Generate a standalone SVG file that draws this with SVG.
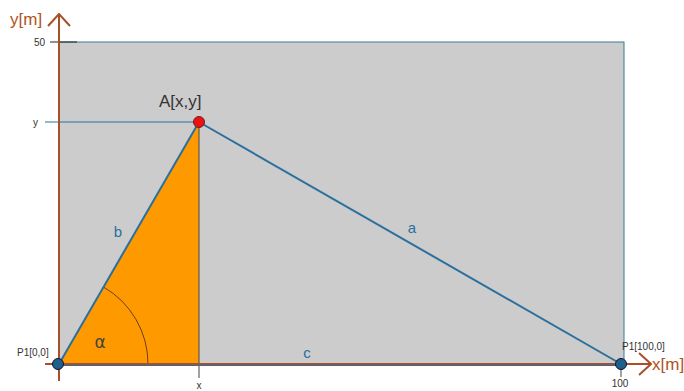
<svg xmlns="http://www.w3.org/2000/svg" width="684" height="391" viewBox="0 0 684 391">
<defs>
<style>
.lbl{font-family:"Liberation Sans",Arial,sans-serif;}
.small{font-size:10px;fill:#333;}
.axl{font-size:17px;fill:#b0541e;}
.side{font-size:15px;fill:#2a6f9e;}
.blue{stroke:#2a6f9e;stroke-width:2;fill:none;}
.axis{stroke:#a8502a;stroke-width:2;fill:none;}
</style>
<marker id="arr" viewBox="0 0 14 24" refX="13" refY="12" markerWidth="14" markerHeight="24" markerUnits="userSpaceOnUse" orient="auto">
<path d="M1,1 L13,12 L1,23" fill="none" stroke="#a8502a" stroke-width="2"/>
</marker>
</defs>
<rect width="684" height="391" fill="#ffffff"/>
<g id="area">
<rect x="59" y="42" width="565" height="322" fill="#cccccc" stroke="#3c7a98" stroke-width="1"/>
</g>
<g id="triangle">
<polygon points="59,364 199,122 199,364" fill="#ff9900"/>
<path d="M148,364 A89,89 0 0 0 103.5,287" fill="none" stroke="#6b4020" stroke-width="1"/>
</g>
<g id="connectors">
<line x1="50" y1="42" x2="77" y2="42" stroke="#222" stroke-width="1"/>
<line x1="45" y1="122" x2="199" y2="122" stroke="#2a6f9e" stroke-width="1"/>
<line x1="199" y1="122" x2="199" y2="378" stroke="#444" stroke-width="1"/>
<line x1="621" y1="364" x2="621" y2="377" stroke="#444" stroke-width="1"/>
<line x1="59" y1="365" x2="621" y2="365" class="blue"/>
<line x1="59" y1="364" x2="199" y2="122" class="blue"/>
<line x1="199" y1="122" x2="621" y2="364" class="blue"/>
<line x1="59" y1="381" x2="59" y2="14" class="axis" marker-end="url(#arr)"/>
<line x1="45" y1="364" x2="651" y2="364" class="axis" marker-end="url(#arr)"/>
</g>
<g id="P1_origin">
<circle cx="58" cy="364" r="5.5" fill="#1f5f8b" stroke="#113" stroke-width="1"/>
<text class="lbl small" x="17" y="356">P1[0,0]</text>
</g>
<g id="P1_end">
<circle cx="621" cy="364" r="5.5" fill="#1f5f8b" stroke="#113" stroke-width="1"/>
<text class="lbl small" x="622" y="350">P1[100,0]</text>
</g>
<g id="A">
<circle cx="199" cy="122" r="5.5" fill="#ee1111" stroke="#702020" stroke-width="1"/>
<text class="lbl" x="159" y="107" font-size="17" fill="#333">A[x,y]</text>
</g>
<g id="labels">
<text class="lbl axl" x="10" y="25">y[m]</text>
<text class="lbl axl" x="652" y="370">x[m]</text>
<text class="lbl small" x="34" y="46">50</text>
<text class="lbl small" x="33" y="126">y</text>
<text class="lbl small" x="199" y="389" text-anchor="middle">x</text>
<text class="lbl small" x="620" y="387" text-anchor="middle">100</text>
<text class="lbl side" x="412" y="233" text-anchor="middle">a</text>
<text class="lbl side" x="118" y="237" text-anchor="middle">b</text>
<text class="lbl side" x="307" y="358" text-anchor="middle">c</text>
<text x="100" y="348" text-anchor="middle" font-family="'DejaVu Sans',sans-serif" font-size="17" fill="#444">α</text>
</g>
</svg>
